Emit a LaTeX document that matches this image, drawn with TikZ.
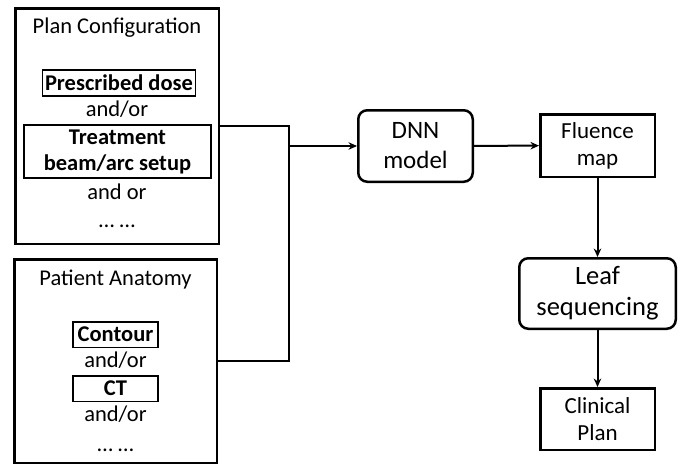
\documentclass[tikz,border=0pt]{standalone}
\usepackage{fontspec}
\setmainfont{Carlito}
\usetikzlibrary{arrows,arrows.meta,positioning}
\tikzstyle{panel}=[rectangle,draw=black,line width=2.5pt,inner sep=0pt]
\tikzstyle{item}=[rectangle,draw=black,line width=1.5pt,inner sep=1pt,
font=\fontsize{22.5}{26}\selectfont\bfseries,align=center]
\tikzstyle{plain}=[inner sep=0pt,align=center]
\tikzstyle{process}=[rectangle,rounded corners=9pt,draw=black,line width=2.5pt,
align=center,font=\fontsize{25}{30}\selectfont]
\tikzstyle{result}=[rectangle,draw=black,line width=2.5pt,align=center,
font=\fontsize{23}{27}\selectfont]
\tikzstyle{link}=[line width=2pt]

\begin{document}
\begin{tikzpicture}[>={Stealth[length=8.5pt,width=7.5pt]},x=1pt,y=-1pt,
    font=\fontsize{22.5}{26}\selectfont]
    \useasboundingbox (0,0) rectangle (680,466);

    % left panels
    \node[panel,minimum width=203.5pt,minimum height=235.5pt] (plan_cfg) at (117,126) {};
    \node[panel,minimum width=202.5pt,minimum height=203.5pt] (anatomy) at (115.5,361) {};

    \node[plain,anchor=base] (plan_title) at (117,33) {Plan Configuration};
    \node[item,minimum width=153pt,minimum height=26pt] (dose) at (119,83) {Prescribed dose};
    \node[plain,anchor=base] (dose_or) at (117,116) {and/or};
    \node[item,minimum width=187pt,minimum height=53pt] (beam) at (117.5,151.5) {Treatment\\beam/arc setup};
    \node[plain,anchor=base] (beam_or) at (117,199) {and or};
    \node[plain,anchor=base] (plan_more) at (117,227) {\dots\ \dots};

    \node[plain,anchor=base] (anatomy_title) at (115.5,285) {Patient Anatomy};
    \node[item,minimum width=85pt,minimum height=25.5pt] (contour) at (115.5,334.5) {Contour};
    \node[plain,anchor=base] (contour_or) at (115.5,367) {and/or};
    \node[item,minimum width=85pt,minimum height=25.5pt] (ct) at (115.5,388.5) {CT};
    \node[plain,anchor=base] (ct_or) at (115.5,421) {and/or};
    \node[plain,anchor=base] (anatomy_more) at (115.5,451) {\dots\ \dots};

    % right column
    \node[process,minimum width=114.5pt,minimum height=71.5pt] (dnn) at (415.5,146) {DNN\\model};
    \node[result,minimum width=114.5pt,minimum height=62.5pt] (fluence) at (597.5,145.5) {Fluence\\map};
    \node[process,minimum width=156.5pt,minimum height=70.5pt,
        font=\fontsize{26.5}{31}\selectfont] (leaf) at (597.5,293.5) {Leaf\\sequencing};
    \node[result,minimum width=114.5pt,minimum height=61.5pt] (clinical) at (597.5,419) {Clinical\\Plan};

    \coordinate (bus) at (289,146);

    \draw[link] (plan_cfg.east) -| (bus) |- (anatomy.east);
    \draw[link,->] (bus) -- (dnn);
    \draw[link,->] (dnn) -- (fluence);
    \draw[link,->] (fluence) -- (leaf);
    \draw[link,->] (leaf) -- (clinical);
\end{tikzpicture}
\end{document}
